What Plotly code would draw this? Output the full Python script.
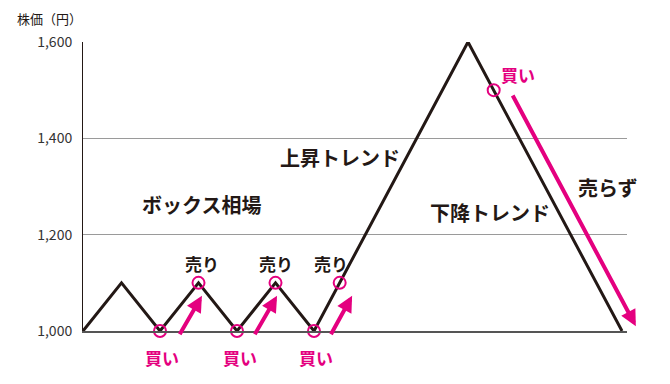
import plotly.graph_objects as go

# Price path (x in steps, y in yen)
path_x = [0, 1, 2, 3, 4, 5, 6, 10, 14]
path_y = [1000, 1100, 1000, 1100, 1000, 1100, 1000, 1600, 1000]

# Marked points
buy_x = [2, 4, 6, 10.667]
buy_y = [1000, 1000, 1000, 1500]
sell_x = [3, 5, 6.667]
sell_y = [1100, 1100, 1100]

# y ticks
tick_vals = [1000, 1200, 1400, 1600]
tick_text = ["1,000", "1,200", "1,400", "1,600"]

# Arrows (tail -> tip)
arrow_tail_x = [2.49, 4.44, 6.42, 11.14]
arrow_tail_y = [990, 990, 990, 1492]
arrow_tip_x = [3.09, 5.04, 6.99, 14.36]
arrow_tip_y = [1073, 1073, 1073, 1010]

MAG = "#e4007f"
BLK = "#231815"
FONT = "Noto Sans CJK JP"

fig = go.Figure()
fig.add_trace(go.Scatter(x=path_x, y=path_y, mode="lines",
                         line=dict(color=BLK, width=3), cliponaxis=False,
                         hoverinfo="skip"))
fig.add_trace(go.Scatter(x=buy_x + sell_x, y=buy_y + sell_y, mode="markers",
                         marker=dict(symbol="circle-open", size=12,
                                     line=dict(color=MAG, width=2), color=MAG),
                         cliponaxis=False, hoverinfo="skip"))

annotations = []
for tx, ty, hx, hy in zip(arrow_tail_x, arrow_tail_y, arrow_tip_x, arrow_tip_y):
    annotations.append(dict(x=hx, y=hy, ax=tx, ay=ty, xref="x", yref="y",
                            axref="x", ayref="y", text="", showarrow=True,
                            arrowhead=2, arrowsize=0.8, arrowwidth=4,
                            arrowcolor=MAG, standoff=0, startstandoff=0))

def label(x, y, text, color=BLK, size=20):
    annotations.append(dict(x=x, y=y, xref="x", yref="y", text=text,
                            showarrow=False,
                            font=dict(family=FONT, size=size, color=color)))

label(3.09, 1262, "<b>ボックス相場</b>")
label(6.68, 1361, "<b>上昇トレンド</b>")
label(10.57, 1247, "<b>下降トレンド</b>")
label(13.64, 1297, "<b>売らず</b>")
for sx in [3.08, 5.0, 6.44]:
    label(sx, 1140, "<b>売り</b>", size=17)
for bx in [2.05, 4.08, 6.05]:
    annotations.append(dict(x=bx, y=0, xref="x", yref="paper", text="<b>買い</b>",
                            yanchor="middle", yshift=-26, showarrow=False,
                            font=dict(family=FONT, size=17, color=MAG)))
label(11.3, 1532, "<b>買い</b>", color=MAG, size=17)

annotations.append(dict(x=0, y=1, xref="paper", yref="paper", text="株価（円）",
                        xanchor="left", yanchor="middle", xshift=-68, yshift=24,
                        showarrow=False,
                        font=dict(family=FONT, size=13, color=BLK)))

# page body has an 8px margin; size the figure to land the plot area in place
fig.update_layout(
    width=662, height=376,
    margin=dict(l=75, r=43, t=34, b=53),
    paper_bgcolor="white", plot_bgcolor="white",
    showlegend=False,
    annotations=annotations,
    xaxis=dict(range=[0, 14.13], showgrid=False, zeroline=False,
               showticklabels=False, showline=True, linecolor="#555555",
               linewidth=1.5, fixedrange=True),
    yaxis=dict(range=[1000, 1600], tickvals=tick_vals, ticktext=tick_text,
               showgrid=True, gridcolor="#9a9a9a", gridwidth=1,
               zeroline=False, showline=True, linecolor=BLK, linewidth=1,
               ticks="", ticklabelstandoff=7,
               tickfont=dict(family=FONT, size=14, color="#333333"),
               fixedrange=True),
)

fig.write_html("out.html")
